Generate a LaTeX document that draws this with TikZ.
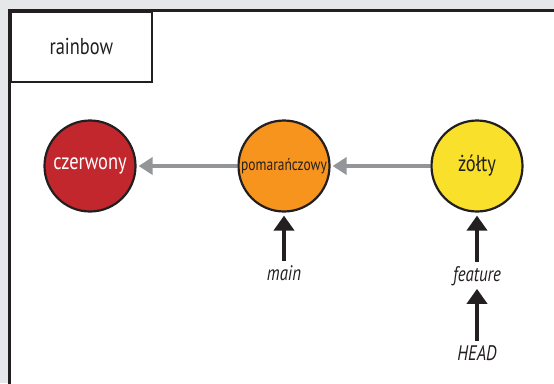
\documentclass[tikz,border=0pt]{standalone}
\usepackage{fontspec}
\setmainfont{PT Sans}[FakeStretch=0.8]
\usetikzlibrary{arrows.meta}
\definecolor{bg}{HTML}{E6E7E8}
\definecolor{ink}{HTML}{231F20}
\definecolor{cred}{HTML}{C1272D}
\definecolor{corange}{HTML}{F7941D}
\definecolor{cyellow}{HTML}{F9E02B}
\definecolor{link}{HTML}{939598}
\tikzset{
  commit/.style={circle, draw=ink, line width=2.2pt, minimum size=91pt, inner sep=0pt, font=\fontsize{23}{26}\selectfont},
  parentlink/.style={draw=link, line width=4pt, -{Triangle[width=17pt,length=14pt]}, shorten >=2pt},
  refptr/.style={draw=ink, line width=4.2pt, -{Triangle[width=20pt,length=15pt]}},
  reflabel/.style={font=\fontsize{21}{24}\selectfont\itshape, text=ink, inner sep=0pt},
}
\begin{document}
\begin{tikzpicture}[x=1pt, y=-1pt]
  \useasboundingbox (0,0) rectangle (554,383);
  \fill[bg] (0,0) rectangle (554,383);
  % repository panel, running past the right and bottom edges
  \begin{scope}
    \clip (0,0) rectangle (554,383);
    \draw[ink, line width=2.6pt, fill=white] (9.5,10.5) rectangle (600,420);
  \end{scope}
  \node[draw=ink, line width=2.6pt, fill=white, minimum width=141pt, minimum height=70pt, anchor=north west, inner sep=0pt,
        font=\fontsize{23}{26}\selectfont, text=ink] (repo) at (9.5,10.5) {rainbow};

  % commits
  \node[commit, fill=cred, text=white] (czerwony) at (90,166) {czerwony};
  \node[commit, fill=corange, text=ink, font=\fontsize{16.8}{20}\selectfont] (pom) at (284,166) {pomarańczowy};
  \node[commit, fill=cyellow, text=ink] (zolty) at (477,166) {żółty};

  \draw[parentlink] (zolty) -- (pom);
  \draw[parentlink] (pom) -- (czerwony);

  % references
  \node[reflabel] (main) at (284,273) {main};
  \node[reflabel] (feature) at (477,276) {feature};
  \node[reflabel] (head) at (477,353) {HEAD};

  \draw[refptr, shorten <=4pt, shorten >=3pt] (main.north) -- (pom.south);
  \draw[refptr, shorten <=4pt, shorten >=3pt] (feature.north) -- (zolty.south);
  \draw[refptr, shorten <=4pt, shorten >=3pt] (head.north) -- (feature.south);
\end{tikzpicture}
\end{document}
